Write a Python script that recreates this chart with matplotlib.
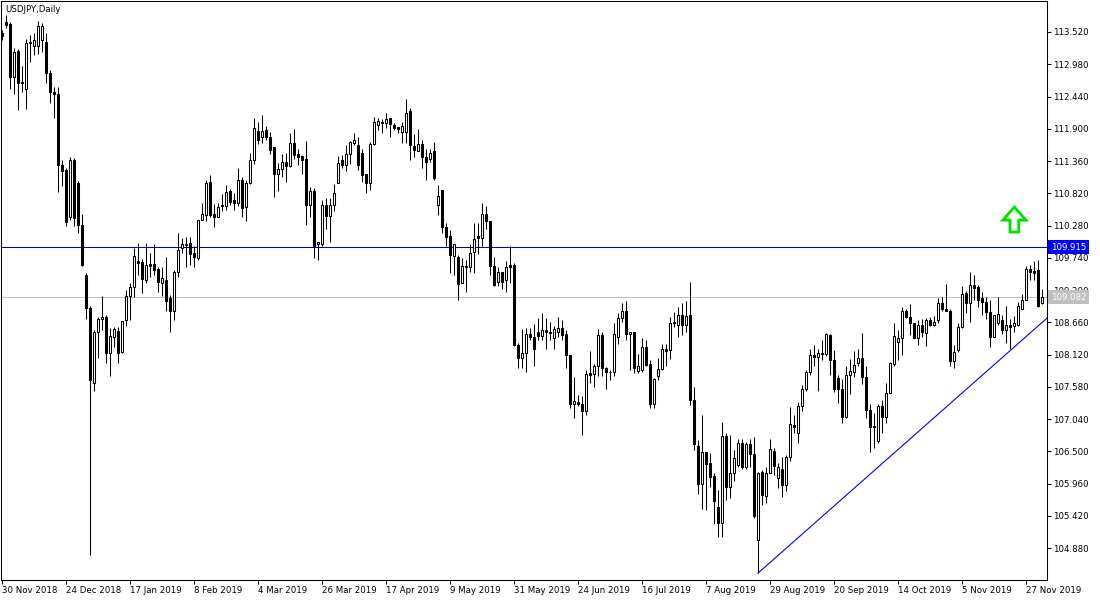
import numpy as np
import matplotlib
matplotlib.use("Agg")
import matplotlib.pyplot as plt
import matplotlib.transforms as mtransforms
from matplotlib.patches import Polygon

# USDJPY daily candles, 30 Nov 2018 .. 3 Dec 2019
opens = [
    113.50, 113.69, 113.65, 112.76, 113.21, 112.68, 112.57, 113.33, 113.29, 113.29,
    113.38, 113.35, 112.84, 112.51, 112.48, 111.29, 111.21, 110.43, 111.37, 110.99,
    110.29, 109.45, 108.90, 107.64, 108.49, 108.71, 108.75, 108.15, 108.42, 108.51,
    108.17, 108.69, 109.10, 109.25, 109.69, 109.67, 109.37, 109.64, 109.64, 109.55,
    109.32, 109.37, 109.06, 108.85, 109.51, 109.90, 109.95, 109.99, 109.82, 109.73,
    110.38, 110.46, 111.01, 110.48, 110.43, 110.62, 110.60, 110.86, 110.71, 110.65,
    111.05, 110.59, 110.99, 111.38, 111.86, 111.76, 111.88, 111.76, 111.59, 111.15,
    111.22, 111.35, 111.27, 111.66, 111.48, 111.44, 111.39, 110.62, 110.86, 109.97,
    109.97, 110.62, 110.44, 110.62, 111.00, 111.37, 111.29, 111.48, 111.66, 111.63,
    111.50, 111.14, 111.00, 111.65, 111.96, 112.02, 112.00, 112.08, 111.96, 111.93,
    111.85, 111.85, 112.20, 111.61, 111.52, 111.65, 111.42, 111.39, 111.52, 110.62,
    110.87, 110.26, 110.10, 109.77, 109.76, 109.31, 109.59, 109.59, 109.84, 110.10,
    110.07, 110.48, 110.36, 109.60, 109.34, 109.51, 109.37, 109.62, 109.62, 108.28,
    108.06, 108.15, 108.46, 108.41, 108.49, 108.43, 108.53, 108.48, 108.39, 108.49,
    108.56, 108.46, 108.11, 107.30, 107.32, 107.30, 107.18, 107.81, 107.79, 107.93,
    108.45, 107.89, 107.83, 107.83, 108.42, 108.73, 108.85, 108.46, 108.50, 107.85,
    107.86, 108.24, 107.96, 107.30, 107.76, 107.87, 108.22, 108.20, 108.67, 108.61,
    108.78, 108.61, 108.78, 107.36, 106.59, 105.96, 106.48, 106.30, 106.09, 105.56,
    105.30, 106.76, 105.91, 106.13, 106.27, 106.64, 106.23, 106.62, 106.45, 105.01,
    106.16, 105.75, 106.13, 106.51, 106.05, 106.21, 105.93, 106.40, 106.94, 106.80,
    107.26, 107.54, 107.82, 108.12, 108.08, 108.13, 108.13, 108.45, 108.03, 107.72,
    107.54, 107.07, 107.78, 107.83, 107.97, 108.07, 107.75, 107.19, 106.90, 106.68,
    107.26, 107.08, 107.48, 107.96, 108.33, 108.39, 108.85, 108.75, 108.64, 108.39,
    108.61, 108.48, 108.70, 108.61, 108.70, 108.98, 108.89, 108.85, 108.02, 108.20,
    108.58, 109.15, 108.98, 109.28, 109.25, 109.06, 109.00, 108.84, 108.41, 108.65,
    108.69, 108.53, 108.61, 108.60, 108.61, 108.89, 109.03, 109.55, 109.52, 109.53,
    108.98,
]
highs = [
    113.55, 113.81, 113.69, 113.25, 113.24, 112.95, 113.41, 113.47, 113.51, 113.70,
    113.67, 113.51, 112.88, 112.60, 112.60, 111.38, 111.24, 111.43, 111.41, 111.03,
    110.47, 109.49, 108.93, 108.53, 108.75, 109.10, 108.78, 108.56, 108.58, 108.58,
    108.68, 109.20, 109.32, 109.90, 109.99, 109.72, 109.99, 109.82, 109.97, 109.59,
    109.59, 109.75, 109.12, 109.54, 110.16, 110.07, 110.09, 110.09, 109.93, 110.37,
    110.66, 111.05, 111.13, 110.64, 110.65, 110.81, 110.96, 110.89, 110.83, 111.24,
    111.10, 111.04, 111.50, 112.08, 112.02, 112.13, 111.95, 111.85, 111.59, 111.32,
    111.48, 111.49, 111.83, 111.89, 111.56, 111.46, 111.70, 110.93, 110.90, 110.01,
    110.71, 110.74, 110.74, 110.98, 111.44, 111.46, 111.63, 111.70, 111.83, 111.77,
    111.56, 111.15, 111.68, 112.10, 112.08, 112.06, 112.16, 112.08, 111.99, 111.93,
    112.02, 112.39, 112.24, 111.82, 111.89, 111.71, 111.56, 111.56, 111.68, 110.96,
    110.87, 110.32, 110.21, 109.97, 109.79, 109.73, 109.71, 109.97, 110.32, 110.32,
    110.65, 110.61, 110.36, 109.76, 109.59, 109.51, 109.69, 109.94, 109.65, 108.31,
    108.54, 108.56, 108.56, 108.63, 108.73, 108.81, 108.73, 108.67, 108.59, 108.74,
    108.70, 108.53, 108.11, 107.75, 107.44, 107.43, 107.86, 108.18, 107.96, 108.54,
    108.49, 107.91, 107.86, 108.65, 108.82, 108.99, 109.01, 108.50, 108.50, 108.13,
    108.39, 108.36, 108.03, 107.72, 108.07, 108.30, 108.30, 108.75, 108.84, 108.92,
    108.98, 109.02, 109.34, 107.58, 106.69, 107.11, 106.48, 106.47, 106.13, 105.85,
    106.99, 106.80, 106.77, 106.52, 106.70, 106.70, 106.66, 106.70, 106.74, 106.16,
    106.19, 106.24, 106.70, 106.55, 106.31, 106.41, 106.44, 107.24, 107.11, 107.33,
    107.61, 107.86, 108.21, 108.28, 108.21, 108.37, 108.48, 108.46, 108.20, 107.78,
    107.71, 107.92, 108.04, 108.18, 108.21, 108.48, 107.92, 107.30, 107.14, 107.30,
    107.36, 107.64, 108.00, 108.65, 108.53, 108.92, 108.89, 108.97, 108.64, 108.69,
    108.71, 108.73, 108.74, 108.77, 109.06, 109.08, 109.30, 108.89, 108.28, 108.65,
    109.26, 109.19, 109.51, 109.45, 109.28, 109.17, 109.09, 109.03, 108.78, 109.09,
    108.78, 108.93, 108.71, 108.77, 109.00, 109.13, 109.60, 109.62, 109.69, 109.71,
    109.21,
]
lows = [
    113.39, 113.59, 112.57, 112.48, 112.22, 112.52, 112.23, 113.01, 113.14, 113.16,
    113.19, 112.67, 112.33, 112.08, 110.84, 110.94, 110.27, 110.37, 110.27, 110.15,
    109.60, 108.71, 104.76, 107.51, 108.06, 108.53, 107.98, 107.76, 108.25, 107.98,
    108.15, 108.59, 108.70, 109.09, 109.45, 109.15, 109.32, 109.42, 109.45, 109.16,
    109.10, 108.85, 108.49, 108.70, 109.42, 109.82, 109.59, 109.62, 109.59, 109.71,
    110.37, 110.36, 110.42, 110.25, 110.42, 110.53, 110.54, 110.62, 110.54, 110.61,
    110.42, 110.36, 110.98, 111.31, 111.65, 111.66, 111.71, 111.48, 110.76, 110.86,
    111.09, 111.01, 111.26, 111.39, 111.29, 111.15, 110.29, 110.43, 109.73, 109.70,
    109.94, 110.22, 110.01, 110.53, 111.00, 111.24, 111.20, 111.31, 111.63, 111.21,
    111.01, 110.83, 110.87, 111.63, 111.88, 111.83, 111.92, 111.77, 111.88, 111.83,
    111.66, 111.66, 111.37, 111.43, 111.52, 111.24, 111.05, 111.35, 111.05, 110.46,
    110.16, 109.93, 109.48, 109.45, 109.03, 109.31, 109.17, 109.51, 109.48, 109.81,
    109.93, 110.23, 109.45, 109.27, 109.27, 109.21, 109.17, 109.31, 108.26, 107.89,
    107.89, 107.82, 108.36, 107.92, 108.36, 108.36, 108.21, 108.36, 108.21, 108.42,
    108.36, 107.89, 107.22, 107.05, 107.25, 106.77, 107.11, 107.64, 107.57, 107.76,
    107.76, 107.54, 107.69, 107.76, 108.30, 108.67, 108.36, 107.86, 107.81, 107.81,
    107.82, 107.93, 107.22, 107.22, 107.69, 107.86, 107.93, 108.04, 108.58, 108.42,
    108.45, 108.50, 107.27, 106.52, 105.78, 105.53, 105.52, 105.91, 105.28, 105.07,
    105.07, 105.68, 105.71, 106.01, 106.24, 106.21, 106.21, 106.24, 105.38, 104.46,
    105.60, 105.63, 106.13, 106.10, 105.88, 105.74, 105.84, 106.33, 106.80, 106.64,
    107.18, 107.51, 107.78, 107.92, 107.51, 108.03, 108.09, 107.78, 107.50, 107.31,
    106.97, 107.05, 107.46, 107.75, 107.92, 107.63, 107.05, 106.49, 106.55, 106.64,
    106.81, 106.97, 107.47, 107.92, 108.03, 108.11, 108.73, 108.45, 108.39, 108.28,
    108.42, 108.26, 108.60, 108.59, 108.64, 108.85, 108.85, 107.93, 107.89, 108.17,
    108.56, 108.81, 108.67, 109.04, 108.92, 108.78, 108.71, 108.25, 108.41, 108.61,
    108.47, 108.31, 108.21, 108.50, 108.60, 108.89, 109.03, 109.37, 109.37, 108.91,
    108.97,
]
closes = [
    113.45, 113.64, 112.76, 113.19, 112.67, 112.66, 113.34, 113.36, 113.38, 113.62,
    113.62, 112.84, 112.51, 112.48, 111.29, 111.20, 110.34, 111.37, 110.41, 110.29,
    109.62, 108.90, 107.69, 108.50, 108.71, 108.74, 108.15, 108.43, 108.55, 108.15,
    108.68, 109.10, 109.25, 109.77, 109.66, 109.38, 109.62, 109.61, 109.54, 109.34,
    109.40, 109.02, 108.85, 109.51, 109.87, 109.97, 109.97, 109.80, 109.76, 110.37,
    110.47, 110.99, 110.46, 110.43, 110.59, 110.60, 110.84, 110.68, 110.65, 111.05,
    110.57, 110.99, 111.38, 111.92, 111.72, 111.87, 111.76, 111.54, 111.15, 111.23,
    111.35, 111.28, 111.66, 111.46, 111.43, 111.38, 110.62, 110.86, 109.93, 110.01,
    110.62, 110.44, 110.62, 110.82, 111.33, 111.29, 111.48, 111.67, 111.71, 111.29,
    111.13, 111.00, 111.65, 112.01, 112.03, 111.99, 112.06, 111.98, 111.91, 111.90,
    111.95, 112.17, 111.63, 111.54, 111.65, 111.42, 111.35, 111.50, 111.07, 110.77,
    110.25, 110.08, 109.79, 109.97, 109.30, 109.60, 109.60, 109.82, 110.05, 110.07,
    110.48, 110.36, 109.60, 109.28, 109.51, 109.34, 109.59, 109.59, 108.28, 108.07,
    108.15, 108.46, 108.41, 108.21, 108.43, 108.53, 108.50, 108.50, 108.54, 108.56,
    108.45, 108.11, 107.30, 107.35, 107.29, 107.18, 107.79, 107.78, 107.93, 108.45,
    107.89, 107.82, 107.82, 108.46, 108.73, 108.85, 108.47, 108.50, 107.89, 107.92,
    108.24, 107.94, 107.30, 107.71, 107.87, 108.22, 108.18, 108.64, 108.64, 108.78,
    108.61, 108.77, 107.36, 106.62, 105.96, 106.48, 106.29, 106.07, 105.66, 105.30,
    106.76, 105.91, 106.13, 106.38, 106.64, 106.23, 106.63, 106.45, 105.42, 106.13,
    105.77, 106.13, 106.53, 106.25, 106.23, 105.93, 106.40, 106.96, 106.91, 107.26,
    107.55, 107.83, 108.11, 108.08, 108.14, 108.15, 108.46, 108.03, 107.55, 107.55,
    107.07, 107.78, 107.85, 107.94, 108.07, 107.75, 107.19, 106.91, 106.92, 107.26,
    107.08, 107.48, 107.97, 108.43, 108.39, 108.85, 108.75, 108.64, 108.39, 108.61,
    108.49, 108.70, 108.61, 108.67, 108.98, 108.89, 108.85, 108.02, 108.17, 108.58,
    109.13, 108.98, 109.28, 109.23, 109.04, 109.00, 108.84, 108.41, 108.78, 108.80,
    108.53, 108.61, 108.58, 108.64, 108.93, 109.04, 109.55, 109.51, 109.49, 108.93,
    109.08,
]

date_labels = ["30 Nov 2018", "24 Dec 2018", "17 Jan 2019", "8 Feb 2019",
               "4 Mar 2019", "26 Mar 2019", "17 Apr 2019", "9 May 2019",
               "31 May 2019", "24 Jun 2019", "16 Jul 2019", "7 Aug 2019",
               "29 Aug 2019", "20 Sep 2019", "14 Oct 2019", "5 Nov 2019",
               "27 Nov 2019"]
price_ticks = [113.52, 112.98, 112.44, 111.90, 111.36, 110.82, 110.28, 109.74,
               109.20, 108.66, 108.12, 107.58, 107.04, 106.50, 105.96, 105.42,
               104.88]
alert_level = 109.915
bid_level = 109.082
trend_x = [189, 261.25]
trend_y = [104.46, 108.73]
arrow_x = 253.1
arrow_y = 110.17

o = np.array(opens)
h = np.array(highs)
l = np.array(lows)
c = np.array(closes)
idx = np.arange(len(o))
up = c >= o

fig = plt.figure(figsize=(11, 6), dpi=100)
ax = fig.add_axes([1 / 1100, 20 / 600, 1046 / 1100, 579 / 600])

# levels behind the candles
ax.axhline(bid_level, color="#c0c0c0", linewidth=0.75, zorder=1)
ax.axhline(alert_level, color="#0000c0", linewidth=0.75, zorder=1)

# candles
ax.vlines(idx, l, h, color="black", linewidth=0.75, zorder=2)
body_lo = np.minimum(o, c)
body_h = np.maximum(np.abs(c - o), 0.012)
ax.bar(idx[up], body_h[up], bottom=body_lo[up], width=0.5, color="white",
       edgecolor="black", linewidth=0.75, zorder=3)
ax.bar(idx[~up], body_h[~up], bottom=body_lo[~up], width=0.5, color="black",
       edgecolor="black", linewidth=0.75, zorder=3)

# trend line
ax.plot(trend_x, trend_y, color="#0000ff", linewidth=0.8, zorder=4)

# green up arrow
hw, HW = 1.1, 2.9
y1, y2 = arrow_y + 0.20, arrow_y + 0.42
pts = [(arrow_x - hw, arrow_y), (arrow_x + hw, arrow_y), (arrow_x + hw, y1),
       (arrow_x + HW, y1), (arrow_x, y2), (arrow_x - HW, y1), (arrow_x - hw, y1)]
ax.add_patch(Polygon(pts, closed=True, facecolor="#f2fff2", edgecolor="#00e000",
                     linewidth=2.0, joinstyle="miter", zorder=5))

ax.set_xlim(-0.25, 261.25)
ax.set_ylim(104.345, 114.039)

# price axis on the right
ax.yaxis.tick_right()
ax.set_yticks(price_ticks)
ax.set_yticklabels([f"{v:.3f}" for v in price_ticks])
ax.tick_params(axis="y", direction="out", length=3, width=0.75, pad=1.5,
               labelsize=6.2, colors="black")

# date axis
ax.set_xticks(np.arange(0, 16 * len(date_labels), 16))
ax.set_xticklabels(date_labels, ha="left")
ax.tick_params(axis="x", direction="out", length=3, width=0.75, pad=1.5,
               labelsize=6.2)

for sp in ax.spines.values():
    sp.set_linewidth(0.75)
    sp.set_color("black")

# current price boxes on the axis
trans = mtransforms.blended_transform_factory(ax.transAxes, ax.transData)
ax.text(1.0035, alert_level, "109.915", transform=trans, ha="left", va="center",
        fontsize=6.2, color="white", clip_on=False, zorder=10,
        bbox=dict(boxstyle="square,pad=0.3", fc="#0000ff", ec="none"))
ax.text(1.0035, bid_level, "109.082", transform=trans, ha="left", va="center",
        fontsize=6.2, color="white", clip_on=False, zorder=10,
        bbox=dict(boxstyle="square,pad=0.3", fc="#c0c0c0", ec="none"))

ax.text(0.004, 0.993, "USDJPY,Daily", transform=ax.transAxes, ha="left",
        va="top", fontsize=6.2, color="black")

fig.savefig("out.png", dpi=100, facecolor="white")
